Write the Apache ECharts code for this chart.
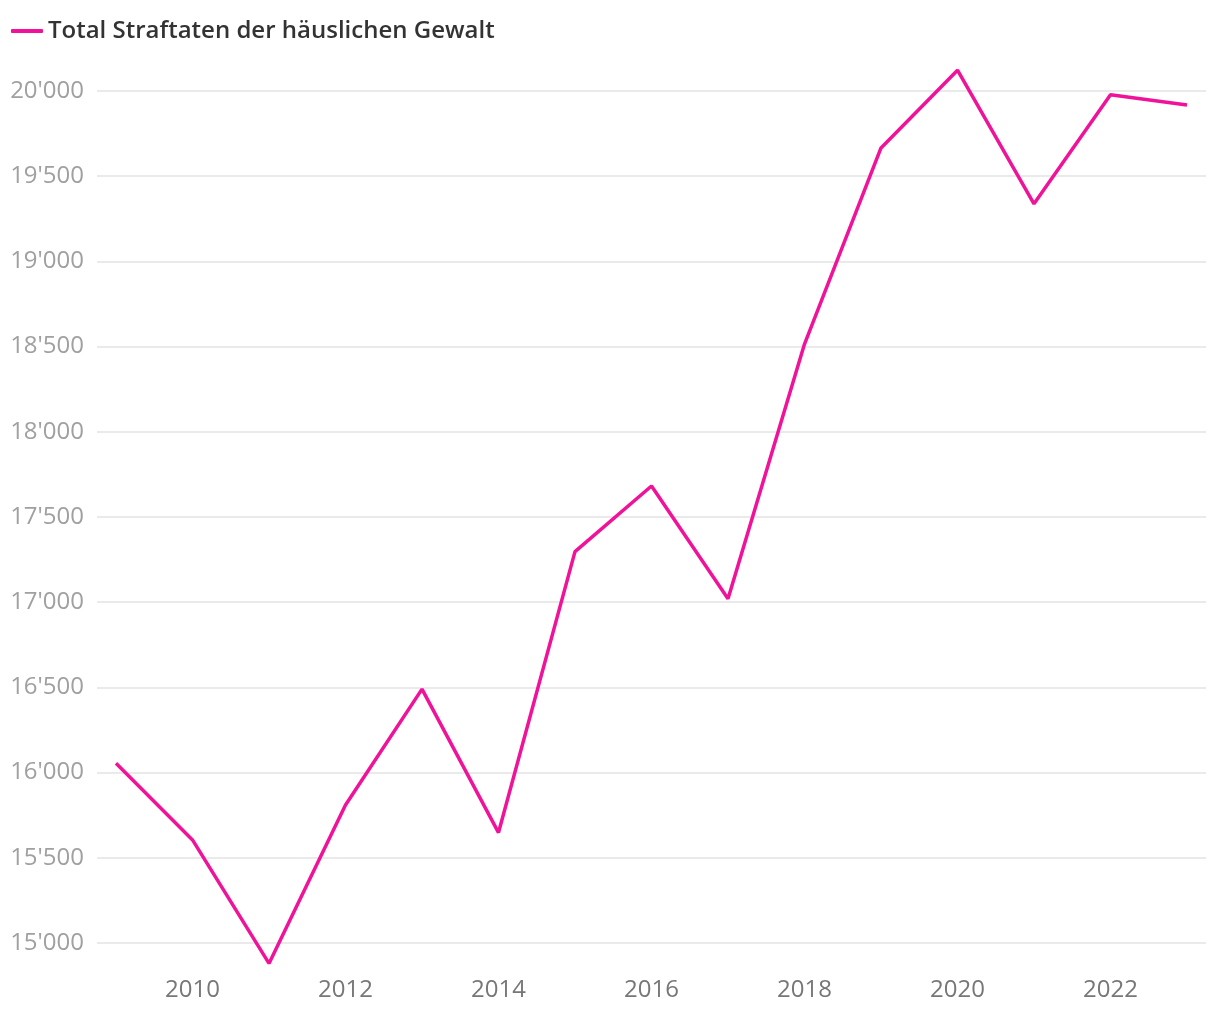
<!DOCTYPE html>
<html>
<head>
<meta charset="utf-8">
<script src="https://cdn.jsdelivr.net/npm/echarts@6/dist/echarts.min.js"></script>
<style>html,body{margin:0;padding:0;background:#fff}#c{width:1220px;height:1020px}</style>
</head>
<body>
<div id="c"></div>
<script>
const years = [2009,2010,2011,2012,2013,2014,2015,2016,2017,2018,2019,2020,2021,2022,2023];
const values = [16055,15605,14880,15810,16490,15648,17297,17682,17020,18515,19666,20122,19338,19978,19918];
const seriesName = 'Total Straftaten der häuslichen Gewalt';

const fmt = v => String(v).replace(/\B(?=(\d{3})+(?!\d))/g, "'");
const chart = echarts.init(document.getElementById('c'));
chart.setOption({
  animation: false,
  textStyle: {fontFamily: '"Open Sans", sans-serif'},
  legend: {
    left: 11, top: 19, padding: 0,
    icon: 'roundRect', itemWidth: 32, itemHeight: 4, itemGap: 10,
    textStyle: {fontSize: 24, color: '#333', fontWeight: 600, fontFamily: '"Open Sans", sans-serif'},
    data: [seriesName]
  },
  grid: [
    {left: 97, right: 14, top: 91, bottom: 77},
    {left: 116, right: 33, top: 91, bottom: 77}
  ],
  xAxis: [
    {gridIndex: 0, type: 'value', min: 0, max: 1, show: false},
    {gridIndex: 1, type: 'value', min: 2009, max: 2023, interval: 1,
     axisLine: {show: false}, axisTick: {show: false}, splitLine: {show: false},
     axisLabel: {margin: 35, fontSize: 24, color: '#777', fontWeight: 500,
       formatter: v => (v % 2 === 0 ? String(v) : '')}}
  ],
  yAxis: [
    {gridIndex: 0, type: 'value', min: 15000, max: 20000, interval: 500,
     axisLine: {show: false}, axisTick: {show: false},
     splitLine: {lineStyle: {color: '#e3e3e3', width: 1.5}},
     axisLabel: {margin: 13, fontSize: 24, color: '#a0a0a0', fontWeight: 500, formatter: fmt}},
    {gridIndex: 1, type: 'value', min: 15000, max: 20000, show: false}
  ],
  series: [{
    name: seriesName, type: 'line', xAxisIndex: 1, yAxisIndex: 1,
    data: years.map((y, i) => [y, values[i]]),
    symbol: 'none', clip: false,
    lineStyle: {color: '#f0139a', width: 3.5},
    itemStyle: {color: '#f0139a'}
  }]
});
</script>
</body>
</html>
